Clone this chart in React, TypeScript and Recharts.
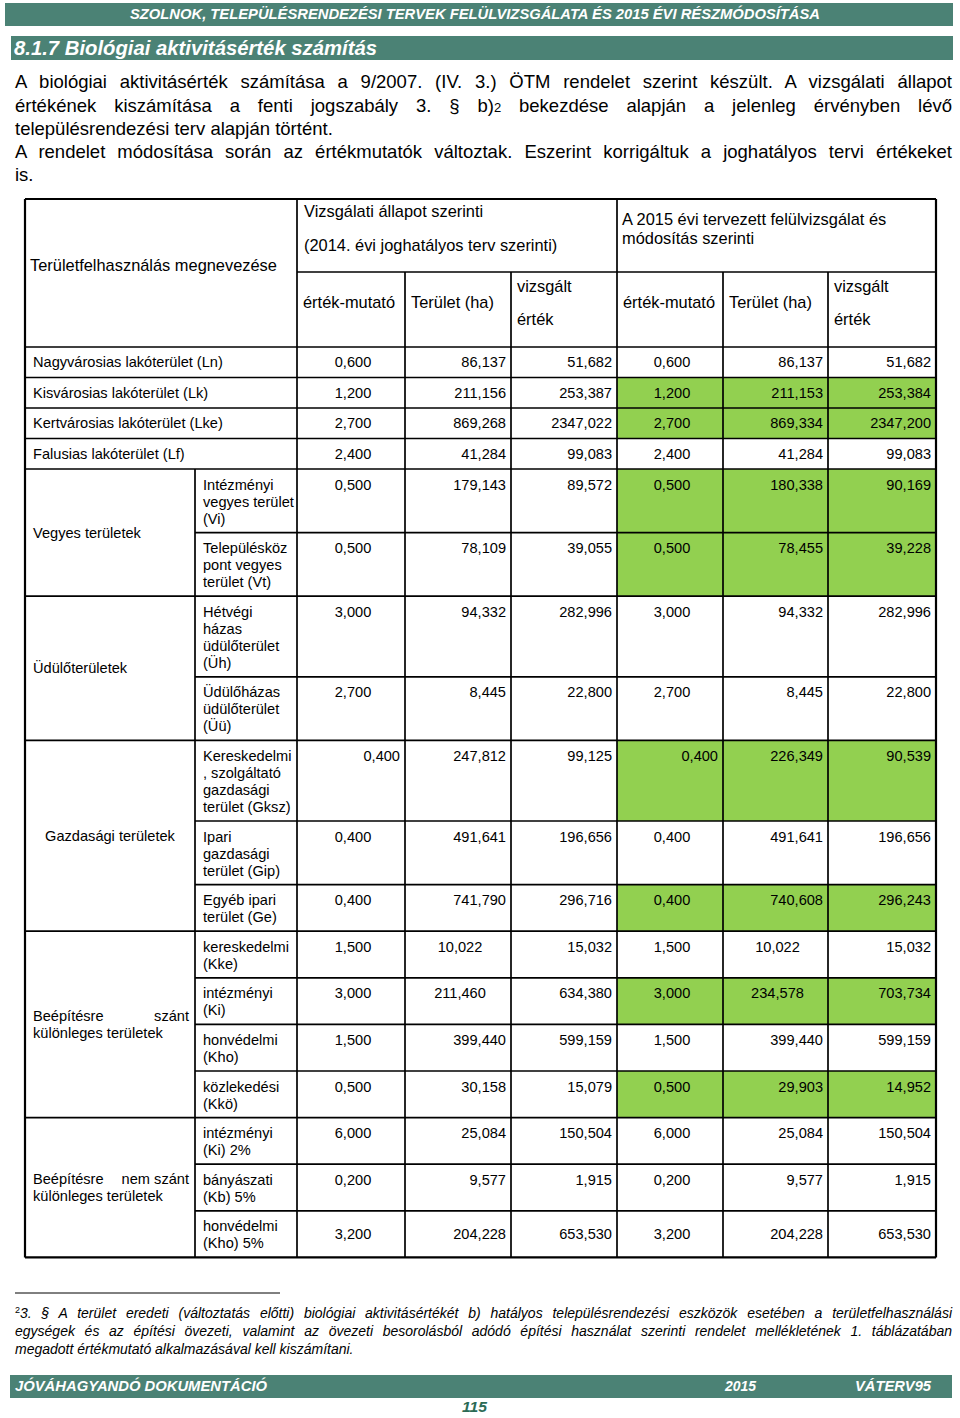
import React from 'react';
import { Surface, Text, Rectangle } from 'recharts';

const TEAL = '#4b8275';
const GREEN = '#92d050';
const FONT = '"Liberation Sans", Arial, sans-serif';

const headerTitle = 'SZOLNOK, TELEPÜLÉSRENDEZÉSI TERVEK FELÜLVIZSGÁLATA ÉS 2015 ÉVI RÉSZMÓDOSÍTÁSA';
const sectionTitle = '8.1.7 Biológiai aktivitásérték számítás';

const introLines = [
  'A biológiai aktivitásérték számítása a 9/2007. (IV. 3.) ÖTM rendelet szerint készült. A vizsgálati állapot',
  'értékének kiszámítása a fenti jogszabály 3. § b)|2| bekezdése alapján a jelenleg érvényben lévő',
  'településrendezési terv alapján történt.',
  'A rendelet módosítása során az értékmutatók változtak. Eszerint korrigáltuk a joghatályos tervi értékeket',
  'is.'
];
const introJustified = [true, true, false, true, false];

const footnoteLines = [
  '3. § A terület eredeti (változtatás előtti) biológiai aktivitásértékét b) hatályos településrendezési eszközök esetében a területfelhasználási',
  'egységek és az építési övezeti, valamint az övezeti besorolásból adódó építési használat szerinti rendelet mellékletének 1. táblázatában',
  'megadott értékmutató alkalmazásával kell kiszámítani.'
];

const headNameLabel = 'Területfelhasználás megnevezése';
const headGroup2014 = ['Vizsgálati állapot szerinti', '(2014. évi joghatályos terv szerinti)'];
const headGroup2015 = ['A 2015 évi tervezett felülvizsgálat és', 'módosítás szerinti'];
const headColumns = [['érték-mutató'], ['Terület (ha)'], ['vizsgált', 'érték']];

const rowLabels: string[][] = [
  ['Nagyvárosias lakóterület (Ln)'],
  ['Kisvárosias lakóterület (Lk)'],
  ['Kertvárosias lakóterület (Lke)'],
  ['Falusias lakóterület (Lf)'],
  ['Intézményi', 'vegyes terület', '(Vi)'],
  ['Településköz', 'pont vegyes', 'terület (Vt)'],
  ['Hétvégi', 'házas', 'üdülőterület', '(Üh)'],
  ['Üdülőházas', 'üdülőterület', '(Üü)'],
  ['Kereskedelmi', ', szolgáltató', 'gazdasági', 'terület (Gksz)'],
  ['Ipari', 'gazdasági', 'terület (Gip)'],
  ['Egyéb ipari', 'terület (Ge)'],
  ['kereskedelmi', '(Kke)'],
  ['intézményi', '(Ki)'],
  ['honvédelmi', '(Kho)'],
  ['közlekedési', '(Kkö)'],
  ['intézményi', '(Ki) 2%'],
  ['bányászati', '(Kb) 5%'],
  ['honvédelmi', '(Kho) 5%']
];

// rows 0-3 stand alone, the rest are grouped
const standaloneRows = 4;
const groupNames: string[][] = [
  ['Vegyes területek'],
  ['Üdülőterületek'],
  ['Gazdasági területek'],
  ['Beépítésre szánt', 'különleges területek'],
  ['Beépítésre nem szánt', 'különleges területek']
];
const groupSizes = [2, 2, 3, 4, 3];

const mutato2014 = [0.6, 1.2, 2.7, 2.4, 0.5, 0.5, 3, 2.7, 0.4, 0.4, 0.4, 1.5, 3, 1.5, 0.5, 6, 0.2, 3.2];
const terulet2014 = [86.137, 211.156, 869.268, 41.284, 179.143, 78.109, 94.332, 8.445, 247.812, 491.641, 741.79, 10.022, 211.46, 399.44, 30.158, 25.084, 9.577, 204.228];
const ertek2014 = [51.682, 253.387, 2347.022, 99.083, 89.572, 39.055, 282.996, 22.8, 99.125, 196.656, 296.716, 15.032, 634.38, 599.159, 15.079, 150.504, 1.915, 653.53];
const mutato2015 = [0.6, 1.2, 2.7, 2.4, 0.5, 0.5, 3, 2.7, 0.4, 0.4, 0.4, 1.5, 3, 1.5, 0.5, 6, 0.2, 3.2];
const terulet2015 = [86.137, 211.153, 869.334, 41.284, 180.338, 78.455, 94.332, 8.445, 226.349, 491.641, 740.608, 10.022, 234.578, 399.44, 29.903, 25.084, 9.577, 204.228];
const ertek2015 = [51.682, 253.384, 2347.2, 99.083, 90.169, 39.228, 282.996, 22.8, 90.539, 196.656, 296.243, 15.032, 703.734, 599.159, 14.952, 150.504, 1.915, 653.53];
const modifiedRows = [false, true, true, false, true, true, false, false, true, false, true, false, true, false, true, false, false, false];

const footerLeft = 'JÓVÁHAGYANDÓ DOKUMENTÁCIÓ';
const footerYear = '2015';
const footerRight = 'VÁTERV95';
const pageNumber = '115';

// layout
const colX = [25, 195, 297, 405, 511, 617, 723, 828, 936];
const tableTop = 199;
const headMid = 272;
const bodyTop = 347;
const LINE = 17;
const DATA = 14.6;
const HEAD = 16.4;
const defaultAlign = ['center', 'right', 'right', 'center', 'right', 'right'];
const alignOverrides: Record<string, string> = { '8-0': 'right', '8-3': 'right', '11-1': 'center', '11-4': 'center', '12-1': 'center', '12-4': 'center' };

const fmt = (v: number) => v.toFixed(3).replace('.', ',');

const rowHeight = (lines: number) => (lines === 1 ? 30.5 : 12.6 + LINE * lines);

function Label({ size = DATA, ...rest }: any) {
  return <Text fontSize={size} fontFamily={FONT} fill="#000" verticalAnchor="middle" {...rest} />;
}

function BarText({ x, y, size, width, children, anchor = 'start', fill = '#fff' }: any) {
  return (
    <text
      x={x}
      y={y}
      fontFamily={FONT}
      fontWeight="bold"
      fontStyle="italic"
      fontSize={size}
      fill={fill}
      textAnchor={anchor}
      textLength={width}
      lengthAdjust="spacingAndGlyphs"
    >
      {children}
    </text>
  );
}

function JustifiedLine({ text, x0, x1, y }: { text: string; x0: number; x1: number; y: number }) {
  const words = text.split(' ');
  const chars = words.reduce((s, w) => s + w.length, 0);
  const cw = DATA * 0.68;
  const gap = (x1 - x0 - chars * cw) / (words.length - 1);
  let cursor = x0;
  return (
    <g>
      {words.map((w, i) => {
        const el =
          i === 0 ? (
            <Label key={i} x={x0} y={y}>{w}</Label>
          ) : i === words.length - 1 ? (
            <Label key={i} x={x1} y={y} textAnchor="end">{w}</Label>
          ) : (
            <Label key={i} x={cursor + (w.length * cw) / 2} y={y} textAnchor="middle">{w}</Label>
          );
        cursor += w.length * cw + gap;
        return el;
      })}
    </g>
  );
}

function Table() {
  const tops: number[] = [];
  let y = bodyTop;
  rowLabels.forEach(lines => {
    tops.push(y);
    y += rowHeight(lines.length);
  });
  const tableBottom = y;
  const values = [mutato2014, terulet2014, ertek2014, mutato2015, terulet2015, ertek2015];

  const groupStarts: number[] = [];
  let g = standaloneRows;
  groupSizes.forEach(s => {
    groupStarts.push(g);
    g += s;
  });

  const stroke = { stroke: '#000', strokeWidth: 1.7 };

  return (
    <g>
      {/* modified values highlighted */}
      {rowLabels.map((lines, i) =>
        modifiedRows[i] ? (
          <Rectangle key={`g${i}`} x={colX[5]} y={tops[i]} width={colX[8] - colX[5]} height={rowHeight(lines.length)} fill={GREEN} />
        ) : null
      )}

      {/* horizontal rules */}
      <line x1={colX[0]} x2={colX[8]} y1={tableTop} y2={tableTop} {...stroke} strokeWidth={2.2} />
      <line x1={colX[2]} x2={colX[8]} y1={headMid} y2={headMid} {...stroke} />
      {tops.map((t, i) => {
        const inGroup = i > standaloneRows && !groupStarts.includes(i);
        return <line key={`h${i}`} x1={inGroup ? colX[1] : colX[0]} x2={colX[8]} y1={t} y2={t} {...stroke} />;
      })}
      <line x1={colX[0]} x2={colX[8]} y1={tableBottom} y2={tableBottom} {...stroke} strokeWidth={2.2} />

      {/* vertical rules */}
      <line x1={colX[0]} x2={colX[0]} y1={tableTop} y2={tableBottom} {...stroke} strokeWidth={2.2} />
      <line x1={colX[8]} x2={colX[8]} y1={tableTop} y2={tableBottom} {...stroke} strokeWidth={2.2} />
      <line x1={colX[1]} x2={colX[1]} y1={tops[standaloneRows]} y2={tableBottom} {...stroke} />
      {[2, 5].map(c => (
        <line key={`v${c}`} x1={colX[c]} x2={colX[c]} y1={tableTop} y2={tableBottom} {...stroke} />
      ))}
      {[3, 4, 6, 7].map(c => (
        <line key={`v${c}`} x1={colX[c]} x2={colX[c]} y1={headMid} y2={tableBottom} {...stroke} />
      ))}

      {/* header */}
      <Label size={HEAD} x={30} y={265}>{headNameLabel}</Label>
      <Label size={HEAD} x={304} y={211}>{headGroup2014[0]}</Label>
      <Label size={HEAD} x={304} y={245}>{headGroup2014[1]}</Label>
      <Label size={HEAD} x={622} y={219}>{headGroup2015[0]}</Label>
      <Label size={HEAD} x={622} y={238}>{headGroup2015[1]}</Label>
      {[0, 1, 2, 3, 4, 5].map(c => {
        const lines = headColumns[c % 3];
        const x = colX[c + 2] + 6;
        return lines.length === 1 ? (
          <Label key={`hc${c}`} size={HEAD} x={x} y={302}>{lines[0]}</Label>
        ) : (
          <g key={`hc${c}`}>
            <Label size={HEAD} x={x} y={286}>{lines[0]}</Label>
            <Label size={HEAD} x={x} y={319}>{lines[1]}</Label>
          </g>
        );
      })}

      {/* group names */}
      {groupNames.map((lines, gi) => {
        const start = groupStarts[gi];
        const end = start + groupSizes[gi];
        const top = tops[start];
        const bottom = end < tops.length ? tops[end] : tableBottom;
        const mid = (top + bottom) / 2;
        const firstY = mid - ((lines.length - 1) * LINE) / 2;
        if (gi === 2) {
          return (
            <Label key={`gn${gi}`} x={(colX[0] + colX[1]) / 2} y={mid} textAnchor="middle">
              {lines[0]}
            </Label>
          );
        }
        return (
          <g key={`gn${gi}`}>
            {lines.map((l, li) =>
              lines.length > 1 && li === 0 ? (
                <JustifiedLine key={li} text={l} x0={33} x1={189} y={firstY} />
              ) : (
                <Label key={li} x={33} y={firstY + li * LINE}>{l}</Label>
              )
            )}
          </g>
        );
      })}

      {/* rows */}
      {rowLabels.map((lines, i) => {
        const h = rowHeight(lines.length);
        const centered = lines.length === 1 || i === rowLabels.length - 1;
        const labelX = i < standaloneRows ? 33 : colX[1] + 8;
        const labelY = lines.length === 1 ? tops[i] + h / 2 : tops[i] + 15.5;
        const valueY = centered ? tops[i] + h / 2 : tops[i] + 15.5;
        return (
          <g key={`r${i}`}>
            {lines.map((l, li) => (
              <Label key={li} x={labelX} y={labelY + li * LINE}>{l}</Label>
            ))}
            {values.map((arr, c) => {
              const align = alignOverrides[`${i}-${c}`] ?? defaultAlign[c];
              const l = colX[c + 2];
              const r = colX[c + 3];
              const x = align === 'center' ? (l + r) / 2 + 2 : r - 5;
              return (
                <Label key={`v${c}`} x={x} y={valueY} textAnchor={align === 'center' ? 'middle' : 'end'}>
                  {fmt(arr[i])}
                </Label>
              );
            })}
          </g>
        );
      })}
    </g>
  );
}

export default function App() {
  return (
    <div style={{ position: 'absolute', left: 0, top: 0, width: 960, height: 1418, background: '#fff', fontFamily: FONT }}>
      <Surface width={960} height={1418} style={{ position: 'absolute', left: 0, top: 0 }}>
        <rect x={5} y={3} width={948} height={23} fill={TEAL} />
        <BarText x={130} y={19} size={14} width={690}>{headerTitle}</BarText>
        <rect x={11} y={36} width={942} height={24} fill={TEAL} />
        <BarText x={14} y={55} size={20.5} width={363}>{sectionTitle}</BarText>

        <Table />

        <line x1={15} x2={280} y1={1293} y2={1293} stroke="#000" strokeWidth={1} />

        <rect x={10} y={1375} width={942} height={23} fill={TEAL} />
        <BarText x={15} y={1391} size={14} width={252}>{footerLeft}</BarText>
        <BarText x={725} y={1391} size={14} width={31}>{footerYear}</BarText>
        <BarText x={855} y={1391} size={14} width={76}>{footerRight}</BarText>
        <BarText x={462} y={1412} size={15} width={25} fill="#2c6b55">{pageNumber}</BarText>
      </Surface>

      <div style={{ position: 'absolute', left: 15, top: 70.4, width: 937, fontSize: 18.5, lineHeight: '23.25px', color: '#000' }}>
        {introLines.map((line, i) => (
          <div
            key={i}
            style={{
              height: 23.25,
              whiteSpace: 'nowrap',
              textAlign: introJustified[i] ? 'justify' : 'left',
              textAlignLast: introJustified[i] ? 'justify' : 'left'
            }}
          >
            {line.split('|').map((part, pi) =>
              pi === 1 ? (
                <span key={pi} style={{ fontSize: 13 }}>{part}</span>
              ) : (
                <React.Fragment key={pi}>{part}</React.Fragment>
              )
            )}
          </div>
        ))}
      </div>

      <div style={{ position: 'absolute', left: 15, top: 1304, width: 937, fontSize: 14, lineHeight: '18px', fontStyle: 'italic', color: '#000' }}>
        {footnoteLines.map((line, i) => (
          <div
            key={i}
            style={{
              height: 18,
              whiteSpace: 'nowrap',
              textAlign: i < 2 ? 'justify' : 'left',
              textAlignLast: i < 2 ? 'justify' : 'left'
            }}
          >
            {i === 0 && <span style={{ fontSize: 9, position: 'relative', top: -5, fontStyle: 'normal' }}>2</span>}
            {line}
          </div>
        ))}
      </div>
    </div>
  );
}
